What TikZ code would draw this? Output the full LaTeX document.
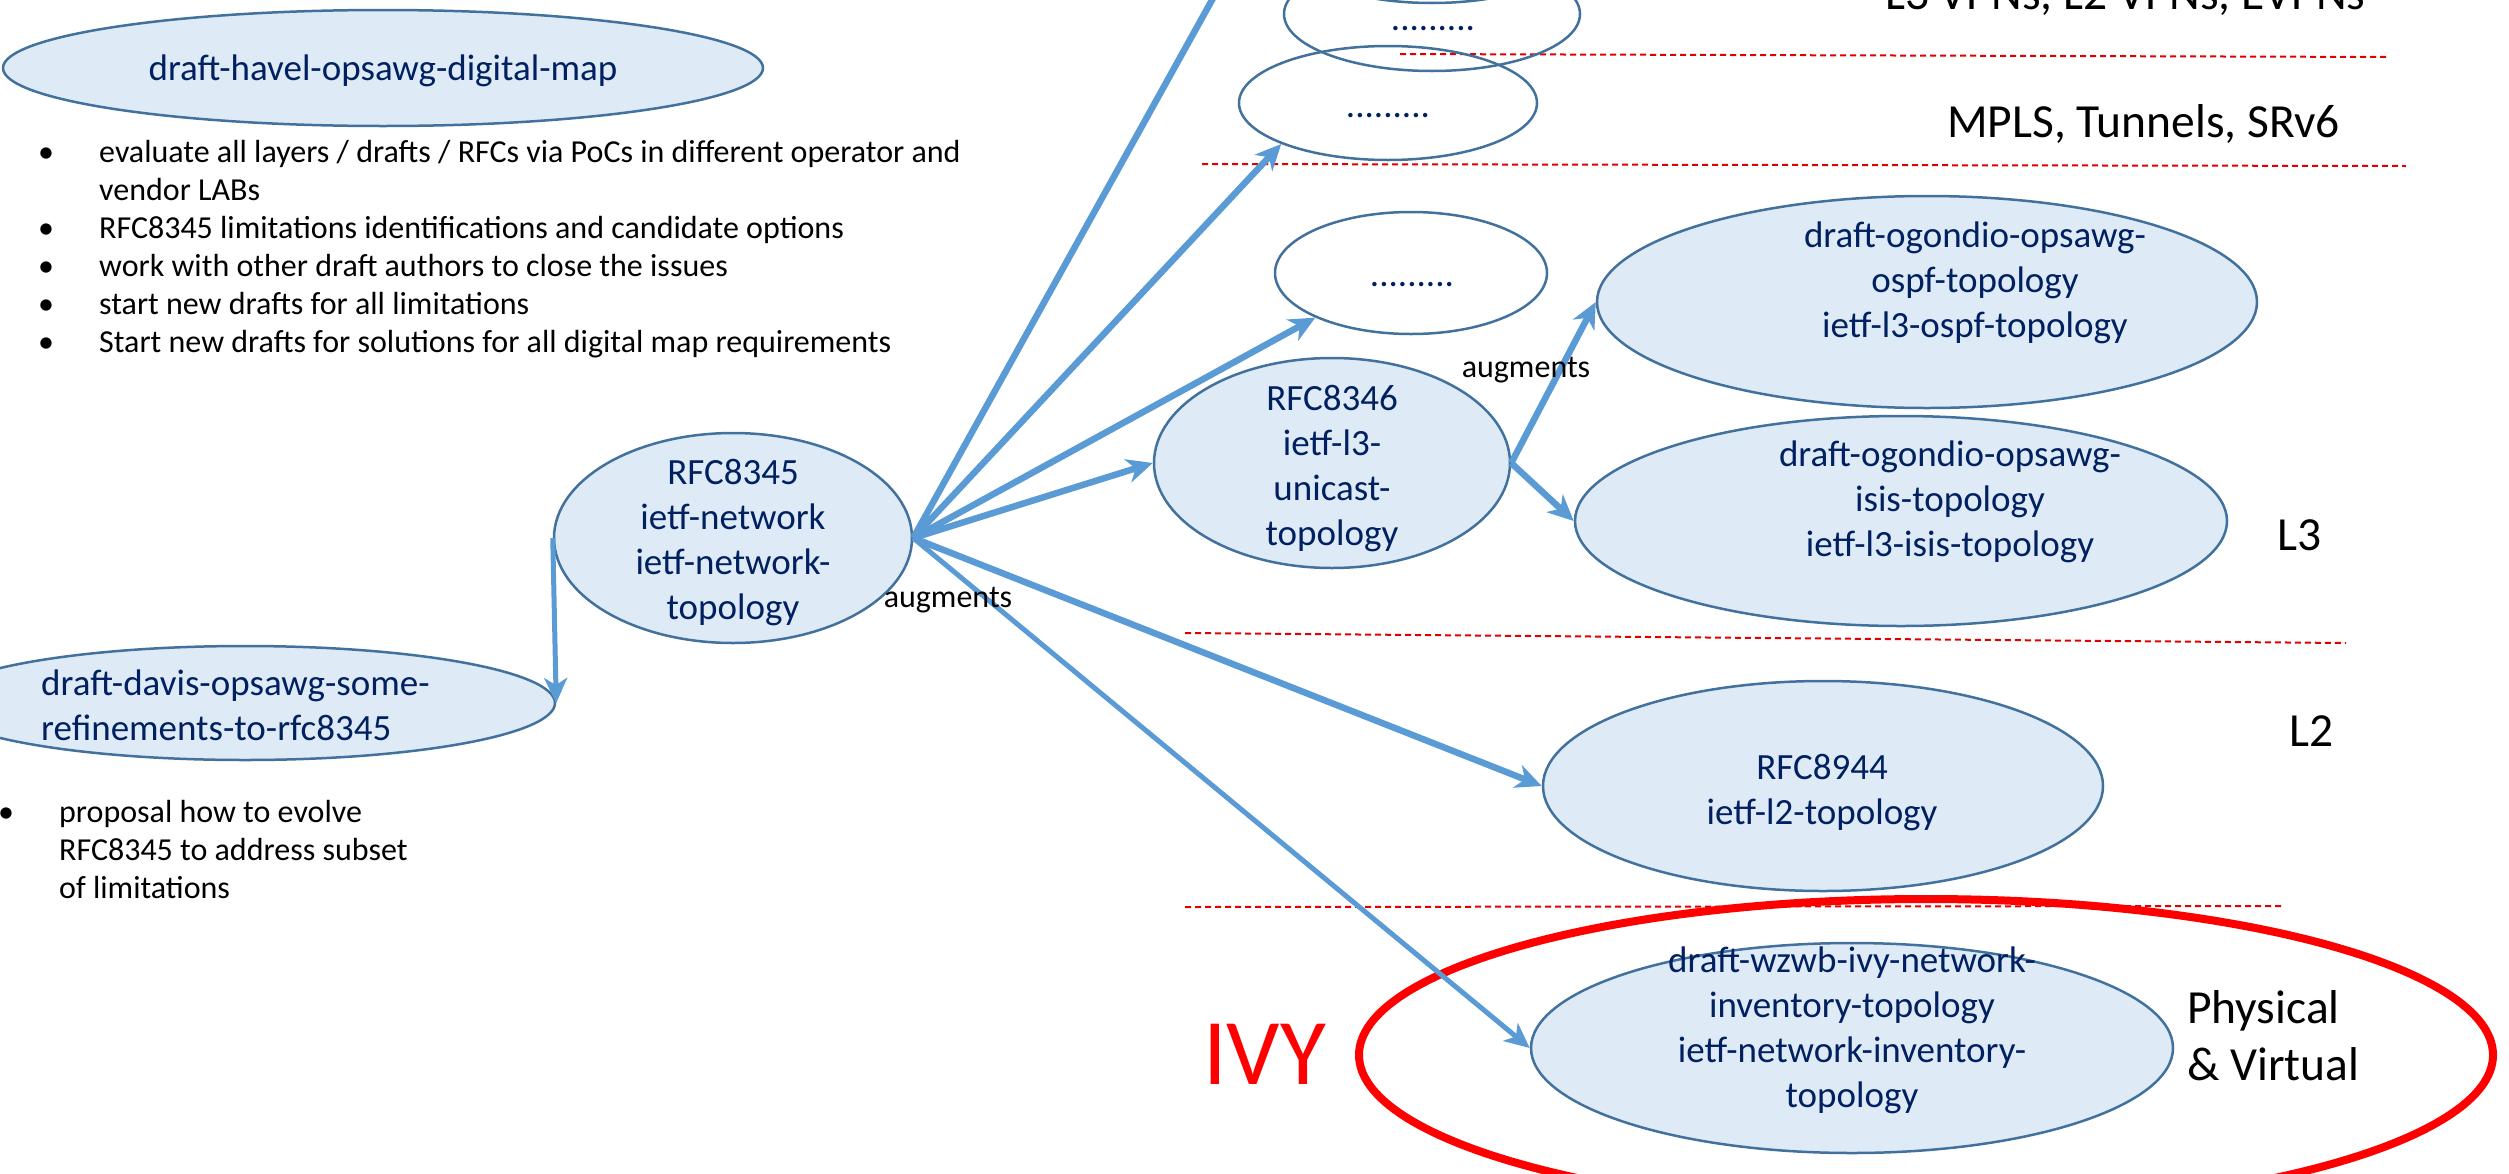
\documentclass[tikz,border=0pt]{standalone}
\usepackage{fontspec}
\setmainfont{Carlito}
\usetikzlibrary{arrows.meta,shapes.geometric}

\definecolor{nodefill}{HTML}{DEEBF7}
\definecolor{nodeline}{HTML}{41719C}
\definecolor{arrowblue}{HTML}{5B9BD5}
\definecolor{navy}{HTML}{002060}
\definecolor{layerred}{HTML}{E00000}

\newcommand{\docfont}{\fontsize{37}{45}\selectfont}
\newcommand{\notefont}{\fontsize{32}{38}\selectfont}
\newcommand{\layerfont}{\fontsize{47.5}{57}\selectfont}
\newcommand{\ivyfont}{\fontsize{94}{110}\selectfont}

\tikzset{
  doc/.style={ellipse, draw=nodeline, line width=2.5pt, fill=nodefill, inner sep=0pt},
  blank/.style={ellipse, draw=nodeline, line width=2.5pt, inner sep=0pt},
  doctext/.style={text=navy, font=\docfont, align=center, inner sep=0pt},
  dots/.style={text=navy, font=\docfont, inner sep=0pt, anchor=base},
  note/.style={font=\notefont, inner sep=0pt},
  layer/.style={font=\layerfont, inner sep=0pt, anchor=base west},
  link/.style={draw=arrowblue, line width=6.5pt, -{Stealth[length=26pt,width=24pt,inset=8pt]}},
  thinlink/.style={draw=arrowblue, line width=5pt, -{Stealth[length=25pt,width=23pt,inset=7pt]}},
  layerline/.style={draw=layerred, line width=2pt, dash pattern=on 6pt off 4pt},
}

\begin{document}
\begin{tikzpicture}[x=1pt, y=-1pt]
\useasboundingbox (0,0) rectangle (2509,1173);
\clip (0,0) rectangle (2509,1173);

% layer separators
\draw[layerline] (1400,54) -- (2389,57);
\draw[layerline] (1202,164) -- (2406,166);
\draw[layerline] (1185,633) -- (2346,643);
\draw[layerline] (1185,907) -- (2281,906);

% digital map draft and its goals
\node[doc, minimum width=760pt, minimum height=116pt] (havel) at (383,68) {};
\node[doctext] (havel-t) at (383,71) {draft-havel-opsawg-digital-map};
\node[note, anchor=base west] (goals) at (38,162) {\notefont
  \begin{tabular}[t]{@{}p{61pt}@{}l@{}}
  \textbullet & evaluate all layers / drafts / RFCs via PoCs in different operator and\\
              & vendor LABs\\
  \textbullet & RFC8345 limitations identifications and candidate options\\
  \textbullet & work with other draft authors to close the issues\\
  \textbullet & start new drafts for all limitations\\
  \textbullet & Start new drafts for solutions for all digital map requirements
  \end{tabular}};

% base model and refinements
\node[doc, minimum width=358pt, minimum height=210pt] (rfc8345) at (733,538) {};
\node[doctext] (rfc8345-t) at (733,543) {RFC8345\\ietf-network\\ietf-network-\\topology};
\node[doc, minimum width=620pt, minimum height=114pt] (davis) at (245,703) {};
\node[doctext, align=left, anchor=west] (davis-t) at (41,705) {draft-davis-opsawg-some-\\refinements-to-rfc8345};
\node[note, anchor=base west] (proposal) at (-2,822) {\notefont
  \begin{tabular}[t]{@{}p{61pt}@{}l@{}}
  \textbullet & proposal how to evolve\\
              & RFC8345 to address subset\\
              & of limitations
  \end{tabular}};

% service and tunnel layers
\node[blank, minimum width=296pt, minimum height=114pt] (upper-vpn) at (1432,-54) {};
\node[blank, minimum width=296pt, minimum height=114pt] (vpn) at (1432,14) {};
\node[dots] (vpn-t) at (1433,30) {.........};
\node[blank, minimum width=298pt, minimum height=114pt] (mpls) at (1388,103) {};
\node[dots] (mpls-t) at (1388,117) {.........};
\node[layer] (vpn-l) at (1885,9) {L3 VPNs, L2 VPNs, EVPNs};
\node[layer] (mpls-l) at (1947,137) {MPLS, Tunnels, SRv6};

% L3
\node[blank, minimum width=272pt, minimum height=122pt] (l3dots) at (1411,273) {};
\node[dots] (l3dots-t) at (1412,286) {.........};
\node[doc, minimum width=356pt, minimum height=210pt] (rfc8346) at (1332,463) {};
\node[doctext] (rfc8346-t) at (1332,469) {RFC8346\\ietf-l3-\\unicast-\\topology};
\node[doc, minimum width=660pt, minimum height=212pt] (ospf) at (1927,302) {};
\node[doctext] (ospf-t) at (1975,283) {draft-ogondio-opsawg-\\ospf-topology\\ietf-l3-ospf-topology};
\node[doc, minimum width=652pt, minimum height=210pt] (isis) at (1901,521) {};
\node[doctext] (isis-t) at (1950,502) {draft-ogondio-opsawg-\\isis-topology\\ietf-l3-isis-topology};
\node[layer] (l3-l) at (2277,550) {L3};

% L2
\node[doc, minimum width=560pt, minimum height=210pt] (rfc8944) at (1823,786) {};
\node[doctext] (rfc8944-t) at (1822,793) {RFC8944\\ietf-l2-topology};
\node[layer] (l2-l) at (2289,746) {L2};

% physical and virtual inventory
\node[ellipse, draw=red, line width=8pt, inner sep=0pt, minimum width=1134pt, minimum height=312pt] (ivyring) at (1926,1055) {};
\node[doc, minimum width=642pt, minimum height=210pt] (ivy) at (1852,1048) {};
\node[doctext] (ivy-t) at (1852,1030) {draft-wzwb-ivy-network-\\inventory-topology\\ietf-network-inventory-\\topology};
\node[font=\ivyfont, text=red, inner sep=0pt, anchor=base west] (ivy-l) at (1203,1084) {IVY};
\node[layer] (phys-l) at (2187,1023) {Physical};
\node[layer] (virt-l) at (2187,1080) {\& Virtual};

% augmentation links
\coordinate (beyond) at (1262,-90);
\draw[draw=arrowblue, line width=6.5pt] (rfc8345.east) -- (beyond);
\draw[link] (rfc8345.east) -- (mpls.201);
\draw[link] (rfc8345.east) -- (l3dots.205);
\draw[link] (rfc8345.east) -- (rfc8346.west);
\draw[link] (rfc8345.east) -- (rfc8944.west);
\draw[thinlink] (rfc8345.east) -- (ivy.west);
\draw[thinlink] (rfc8345.west) -- (davis.east);
\draw[link] (rfc8346.east) -- (ospf.west);
\draw[link] (rfc8346.east) -- (isis.west);

\node[note, anchor=base] (aug1) at (948,607) {augments};
\node[note, anchor=base] (aug2) at (1526,377) {augments};
\end{tikzpicture}
\end{document}
